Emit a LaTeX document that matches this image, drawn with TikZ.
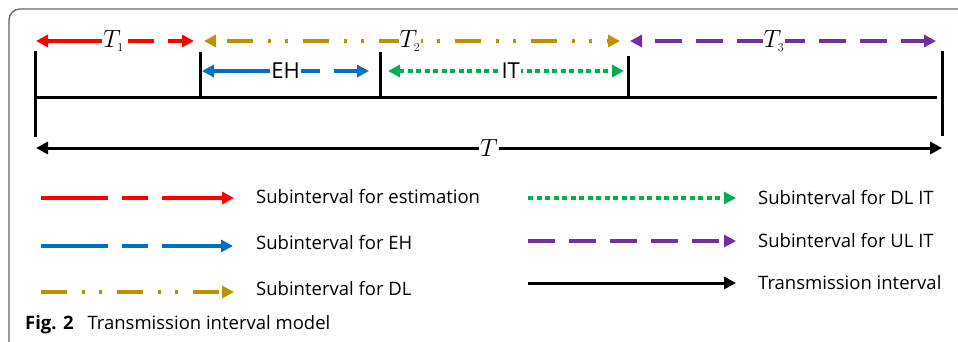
\documentclass[tikz,border=0pt]{standalone}
\usepackage{fontspec}
\setmainfont{Open Sans}
\usetikzlibrary{arrows.meta}

\definecolor{estred}{RGB}{255,0,0}
\definecolor{ehblue}{RGB}{0,112,192}
\definecolor{dlgold}{RGB}{191,144,0}
\definecolor{itgreen}{RGB}{0,176,80}
\definecolor{ulpurple}{RGB}{112,48,160}
\definecolor{framegray}{RGB}{100,100,100}

\tikzset{
  tip/.style={-{Triangle[length=12pt,width=12pt]}},
  twotip/.style={{Triangle[length=12pt,width=12pt]}-{Triangle[length=12pt,width=12pt]}},
  arr/.style={line width=3.4pt},
  longshort/.style={dash pattern=on 67pt off 14pt on 26pt off 14pt},
  dashdotdot/.style={dash pattern=on 26pt off 15pt on 3pt off 14pt on 3pt off 15pt},
  dotline/.style={dash pattern=on 5pt off 3.5pt},
  evendash/.style={dash pattern=on 27pt off 14pt},
  tick/.style={line width=3pt, black},
  tlabel/.style={fill=white, inner sep=1pt, font=\fontsize{24}{26}\selectfont},
  slabel/.style={fill=white, inner sep=1.5pt, font=\fontsize{22}{26}\selectfont},
  legtext/.style={anchor=west, inner sep=0pt, font=\fontsize{18.5}{22}\selectfont},
}

\begin{document}
\begin{tikzpicture}[x=1pt,y=-1pt]
\useasboundingbox (0,0) rectangle (958,341);

% frame around the figure
\draw[framegray, line width=1.3pt, rounded corners=11pt] (9,342) -- (9,9) -- (959,9);

% interval boundaries
\coordinate (b0t) at (35,51);  \coordinate (b0b) at (35,137);
\coordinate (b1t) at (200,52); \coordinate (b1b) at (200,97);
\coordinate (b2t) at (380,52); \coordinate (b2b) at (380,97);
\coordinate (b3t) at (628,56); \coordinate (b3b) at (628,97);
\coordinate (b4t) at (942,51); \coordinate (b4b) at (942,136);
\coordinate (axl) at (35,97);  \coordinate (axr) at (937,97);

\draw[tick] (b0t) -- (b0b);
\draw[tick] (b1t) -- (b1b);
\draw[tick] (b2t) -- (b2b);
\draw[tick] (b3t) -- (b3b);
\draw[tick] (b4t) -- (b4b);
\draw[tick] (axl) -- (axr);

% subinterval arrows, first row
\coordinate (r1a) at (36,41);  \coordinate (r1b) at (194,41);
\coordinate (g1a) at (204,41); \coordinate (g1b) at (620,41);
\coordinate (p1a) at (630,41); \coordinate (p1b) at (936,41);
\draw[arr, estred, twotip, longshort] (r1a) -- (r1b)
  node[tlabel, pos=0.49, text=black] {$T_{\scriptscriptstyle 1}$};
\draw[arr, dlgold, twotip, dashdotdot, dash phase=-12pt] (g1a) -- (g1b)
  node[tlabel, pos=0.495, text=black] {$T_{\scriptscriptstyle 2}$};
\draw[arr, ulpurple, twotip, evendash, dash phase=-14pt] (p1a) -- (p1b)
  node[tlabel, pos=0.47, text=black] {$T_{\scriptscriptstyle 3}$};

% subinterval arrows, second row
\coordinate (e2a) at (202,71); \coordinate (e2b) at (369,71);
\coordinate (i2a) at (388,71); \coordinate (i2b) at (624,71);
\draw[arr, ehblue, twotip, longshort] (e2a) -- (e2b)
  node[slabel, pos=0.5, text=black] {EH};
\draw[arr, itgreen, twotip, dotline] (i2a) -- (i2b)
  node[slabel, pos=0.52, text=black] {IT};

% whole transmission interval
\coordinate (ta) at (36,148); \coordinate (tb) at (942,148);
\draw[arr, line width=3pt, black, twotip] (ta) -- (tb)
  node[tlabel, pos=0.5] {$T$};

% legend, left column
\coordinate (l1a) at (41,198); \coordinate (l1b) at (234,198);
\coordinate (l2a) at (41,246); \coordinate (l2b) at (233,246);
\coordinate (l3a) at (41,292); \coordinate (l3b) at (234,292);
\draw[arr, estred, tip, longshort] (l1a) -- (l1b);
\draw[arr, ehblue, tip, longshort] (l2a) -- (l2b);
\draw[arr, dlgold, tip, dashdotdot] (l3a) -- (l3b);
\node[legtext] (t1) at (256,197) {Subinterval for estimation};
\node[legtext] (t2) at (256,243) {Subinterval for EH};
\node[legtext] (t3) at (256,289) {Subinterval for DL};

% legend, right column
\coordinate (l4a) at (528,198); \coordinate (l4b) at (736,198);
\coordinate (l5a) at (528,241); \coordinate (l5b) at (736,241);
\coordinate (l6a) at (528,283); \coordinate (l6b) at (736,283);
\draw[arr, itgreen, tip, dotline] (l4a) -- (l4b);
\draw[arr, ulpurple, tip, evendash] (l5a) -- (l5b);
\draw[arr, line width=3pt, black, tip] (l6a) -- (l6b);
\node[legtext] (t4) at (758,198) {Subinterval for DL IT};
\node[legtext] (t5) at (758,241) {Subinterval for UL IT};
\node[legtext] (t6) at (758,283) {Transmission interval};

% caption
\node[anchor=base west, inner sep=0pt, font=\fontsize{18.5}{22}\selectfont] (cap) at (25,329)
  {\textbf{Fig. 2}\hspace{0.75em}Transmission interval model};
\end{tikzpicture}
\end{document}
